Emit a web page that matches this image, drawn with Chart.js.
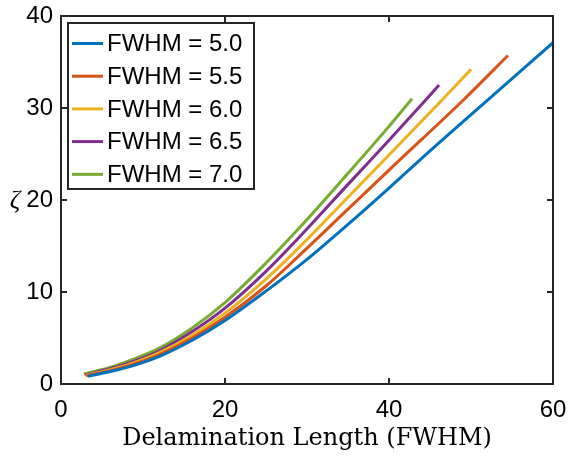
<!DOCTYPE html>
<html>
<head>
<meta charset="utf-8">
<script src="https://cdn.jsdelivr.net/npm/chart.js@4"></script>
<style>
  html, body { margin: 0; padding: 0; background: #fff; }
  #wrap { width: 569px; height: 458px; }
</style>
</head>
<body>
<div id="wrap"><canvas id="zetaChart" width="569" height="458"></canvas></div>
<script>
// values
const seriesLabels = ['FWHM = 5.0', 'FWHM = 5.5', 'FWHM = 6.0', 'FWHM = 6.5', 'FWHM = 7.0'];
const seriesColors = ['#0072BD', '#D95319', '#EDB120', '#7E2F8E', '#77AC30'];

const x50 = [3.3, 6, 9, 12, 16, 20, 25, 30, 35, 40, 45, 52.2, 60];
const y50 = [0.85, 1.35, 2.05, 3.0, 4.75, 6.9, 10.1, 13.55, 17.35, 21.3, 25.35, 31.0, 37.1];

const x55 = [3.1, 6, 9, 12, 16, 20, 25, 29.1, 35, 40, 49.1, 54.5];
const y55 = [0.9, 1.45, 2.2, 3.2, 5.0, 7.25, 10.65, 14.0, 19.0, 23.25, 30.9, 35.7];

const x60 = [3.0, 6, 9, 12, 16, 20, 25, 29.1, 35, 40, 46.5, 50];
const y60 = [0.95, 1.55, 2.35, 3.4, 5.3, 7.7, 11.4, 14.9, 20.3, 24.9, 30.9, 34.2];

const x65 = [2.9, 6, 9, 12, 16, 20, 25, 29.1, 35, 40, 44.5, 46.1];
const y65 = [1.0, 1.65, 2.5, 3.6, 5.7, 8.25, 12.25, 16.0, 21.7, 26.5, 30.9, 32.5];

const x70 = [2.8, 6, 9, 12, 16, 20, 25, 29.1, 35, 40, 42.8];
const y70 = [1.1, 1.8, 2.75, 3.9, 6.1, 8.85, 13.15, 17.0, 22.9, 28.0, 31.0];

const xTicks = [0, 20, 40, 60];
const yTicks = [0, 10, 20, 30, 40];

const allX = [x50, x55, x60, x65, x70];
const allY = [y50, y55, y60, y65, y70];

const datasets = seriesLabels.map((label, i) => ({
    label: label,
    data: allX[i].map((x, j) => ({ x: x, y: allY[i][j] })),
    borderColor: seriesColors[i],
    backgroundColor: seriesColors[i],
    borderWidth: 3,
    pointRadius: 0,
    fill: false,
    cubicInterpolationMode: 'monotone'
}));

const axisColor = '#262626';
const tickFont = { family: '"Liberation Sans", Arial, sans-serif', size: 24 };

// box, inward ticks, legend and the zeta label, MATLAB style
const framePlugin = {
    id: 'frame',
    afterDatasetsDraw(chart) {
        const { ctx, chartArea: a, scales } = chart;
        ctx.save();
        ctx.strokeStyle = axisColor;
        ctx.lineWidth = 2;
        ctx.strokeRect(a.left, a.top, a.right - a.left, a.bottom - a.top);

        const len = 6;
        ctx.beginPath();
        xTicks.forEach(v => {
            const px = scales.x.getPixelForValue(v);
            ctx.moveTo(px, a.bottom); ctx.lineTo(px, a.bottom - len);
            ctx.moveTo(px, a.top); ctx.lineTo(px, a.top + len);
        });
        yTicks.forEach(v => {
            const py = scales.y.getPixelForValue(v);
            ctx.moveTo(a.left, py); ctx.lineTo(a.left + len, py);
            ctx.moveTo(a.right, py); ctx.lineTo(a.right - len, py);
        });
        ctx.stroke();

        // legend
        const lx = a.left + 7, ly = a.top + 7, lw = 186, lh = 166;
        ctx.fillStyle = '#fff';
        ctx.fillRect(lx, ly, lw, lh);
        ctx.lineWidth = 2;
        ctx.strokeStyle = axisColor;
        ctx.strokeRect(lx, ly, lw, lh);
        ctx.font = '24px "Liberation Sans", Arial, sans-serif';
        ctx.textBaseline = 'middle';
        ctx.textAlign = 'left';
        chart.data.datasets.forEach((ds, i) => {
            const rowY = ly + 20.5 + i * 32.7;
            ctx.strokeStyle = ds.borderColor;
            ctx.lineWidth = 3;
            ctx.beginPath();
            ctx.moveTo(lx + 4, rowY);
            ctx.lineTo(lx + 35, rowY);
            ctx.stroke();
            ctx.fillStyle = '#000';
            ctx.fillText(ds.label, lx + 39, rowY + 1);
        });

        // y label, upright
        ctx.font = 'italic 26px "Liberation Serif", "DejaVu Serif", serif';
        ctx.textAlign = 'center';
        ctx.fillStyle = '#000';
        ctx.fillText('ζ', 15, (a.top + a.bottom) / 2 + 1);
        ctx.restore();
    }
};

const config = {
    type: 'line',
    data: { datasets: datasets },
    options: {
        responsive: false,
        animation: false,
        devicePixelRatio: 1,
        layout: { padding: { top: 16, right: 16, left: 0, bottom: 0 } },
        plugins: {
            legend: { display: false },
            tooltip: { enabled: false }
        },
        scales: {
            x: {
                type: 'linear',
                min: 0,
                max: 60,
                afterBuildTicks: s => { s.ticks = xTicks.map(v => ({ value: v })); },
                afterFit: s => { s.height = 74; s.paddingLeft = 0; s.paddingRight = 0; },
                grid: { display: false, drawTicks: false },
                border: { display: false },
                ticks: { font: tickFont, color: '#000', padding: 12, maxRotation: 0 },
                title: {
                    display: true,
                    text: 'Delamination Length (FWHM)',
                    font: { family: '"DejaVu Serif", serif', size: 24 },
                    color: '#000',
                    padding: { top: 0, bottom: 5 }
                }
            },
            y: {
                type: 'linear',
                min: 0,
                max: 40,
                afterBuildTicks: s => { s.ticks = yTicks.map(v => ({ value: v })); },
                afterFit: s => { s.width = 61; s.paddingTop = 0; s.paddingBottom = 0; },
                grid: { display: false, drawTicks: false },
                border: { display: false },
                ticks: { font: tickFont, color: '#000', padding: 8 }
            }
        }
    },
    plugins: [framePlugin]
};

const zetaChart = new Chart(document.getElementById('zetaChart'), config);
</script>
</body>
</html>
